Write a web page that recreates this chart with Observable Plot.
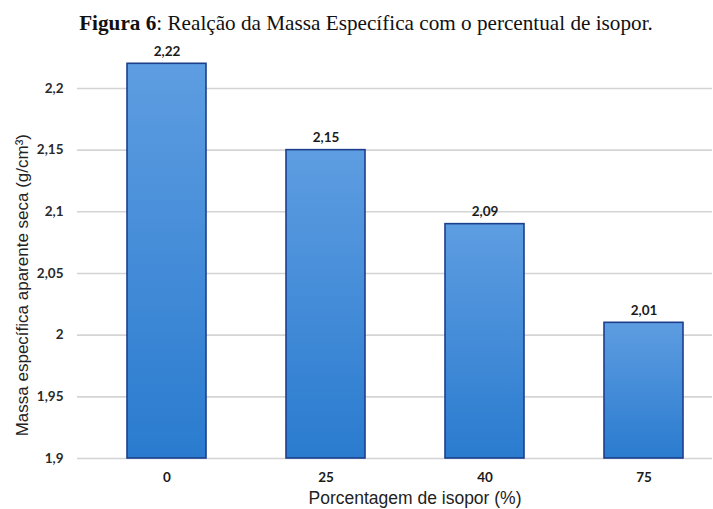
<!DOCTYPE html>
<html>
<head>
<meta charset="utf-8">
<script src="https://cdn.jsdelivr.net/npm/d3@7"></script>
<script src="https://cdn.jsdelivr.net/npm/@observablehq/plot@0.6"></script>
<style>
  body { margin: 0; background: #fff; }
  #wrap { width: 713px; height: 509px; position: relative; overflow: hidden; }
  #title { height: 40px; line-height: 47px; font-family: "Liberation Serif", "Times New Roman", serif; font-size: 21.2px; color: #111; text-align: center; padding-left: 19px; box-sizing: border-box; white-space: nowrap; }
  #title b { font-weight: bold; }
</style>
</head>
<body>
<div id="wrap">
  <div id="title"><b>Figura 6</b>: Realção da Massa Específica com o percentual de isopor.</div>
  <div id="chart"></div>
</div>
<script>
const categories = ["0", "25", "40", "75"];
const values = [2.22, 2.15, 2.09, 2.01];
const yTicks = [1.9, 1.95, 2, 2.05, 2.1, 2.15, 2.2];
const yTitle = "Massa específica aparente seca (g/cm³)";
const xTitle = "Porcentagem de isopor (%)";

const data = categories.map((c, i) => ({cat: c, val: values[i]}));
const fmt = d => String(d).replace(".", ",");
const labelFont = "Lato, 'Open Sans', sans-serif";
const titleFont = "'Liberation Sans', Arial, sans-serif";

const plot = Plot.plot({
  width: 713,
  height: 469,
  marginLeft: 77,
  marginRight: 1,
  marginTop: 23.3,
  marginBottom: 51,
  style: {fontFamily: labelFont, background: "#fff", overflow: "visible"},
  x: {domain: categories, paddingInner: 0.506, paddingOuter: 0.2375, align: 0.63, label: null},
  y: {domain: [1.9, 2.22], label: null},
  marks: [
    Plot.gridY(yTicks, {stroke: "#d4d4d4", strokeOpacity: 1, strokeWidth: 1.6}),
    Plot.axisY(yTicks, {tickSize: 0, tickPadding: 14, tickFormat: fmt, fontSize: 13.5, fontWeight: "bold", fill: "#2a2a2a", label: null}),
    Plot.axisX({tickSize: 0, tickPadding: 14, fontSize: 13.5, fontWeight: "bold", fill: "#1a1a1a", label: null}),
    Plot.barY(data, {x: "cat", y1: 1.9, y2: "val", fill: "url(#barGrad)", stroke: "#1c3f8c", strokeWidth: 1.6}),
    Plot.text(data, {x: "cat", y: "val", text: d => fmt(d.val), dy: -12, fontSize: 13.5, fontWeight: "bold", fill: "#1a1a1a"}),
    Plot.text([yTitle], {frameAnchor: "left", textAnchor: "middle", lineAnchor: "middle", text: d => d, rotate: -90, dx: -55, dy: 24, fontSize: 17, fontFamily: titleFont, fill: "#222"}),
    Plot.text([xTitle], {frameAnchor: "bottom", lineAnchor: "middle", text: d => d, dx: 20, dy: 40, fontSize: 17.5, fontFamily: titleFont, fill: "#222"})
  ]
});

const svg = d3.select(plot);
const defs = svg.insert("defs", ":first-child");
const g = defs.append("linearGradient").attr("id", "barGrad").attr("x1", 0).attr("y1", 0).attr("x2", 0).attr("y2", 1);
g.append("stop").attr("offset", "0%").attr("stop-color", "#5e9de1");
g.append("stop").attr("offset", "100%").attr("stop-color", "#2a7bcf");

document.getElementById("chart").appendChild(plot);
</script>
</body>
</html>
